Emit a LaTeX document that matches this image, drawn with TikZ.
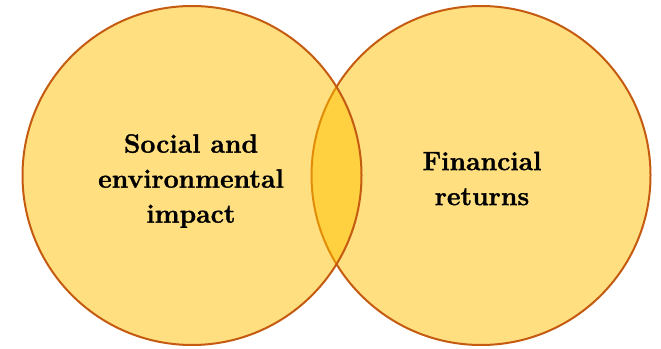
\documentclass[tikz,border=0pt]{standalone}
\usepackage{fontspec}
\setmainfont{Latin Modern Roman}[BoldFeatures={FakeBold=1.2}]
\definecolor{gold}{HTML}{FFC000}
\definecolor{rim}{HTML}{C55A11}
\tikzset{
  venn/.style={circle, minimum size=339pt, inner sep=0pt, fill=gold, fill opacity=0.5, draw=rim, draw opacity=1, line width=2pt},
  lbl/.style={align=center, font=\fontsize{26.5}{35}\selectfont\bfseries, text=black}
}
\begin{document}
\begin{tikzpicture}[x=1pt,y=-1pt]
\useasboundingbox (0,0) rectangle (661,348);
\node[venn] (fin) at (481,175.5) {};
\node[venn] (soc) at (192,175.5) {};
\node[lbl] (tsoc) at (191,181) {Social and\\environmental\\impact};
\node[lbl] (tfin) at (482,178.5) {Financial\\returns};
\end{tikzpicture}
\end{document}
